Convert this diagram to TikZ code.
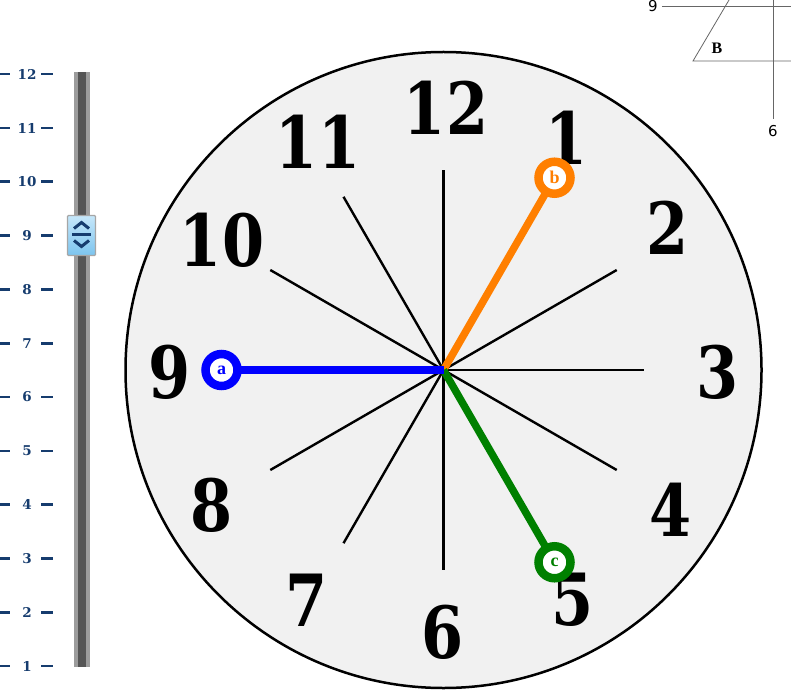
\documentclass[tikz,border=0pt]{standalone}
\usepackage{fontspec}
\setmainfont{Liberation Serif}
\newfontfamily\dvserif{DejaVu Serif}
\newfontfamily\dvsans{DejaVu Sans}
\newfontfamily\clockfont{DejaVu Serif}[FakeStretch=0.84]
\usetikzlibrary{positioning, arrows.meta}
\definecolor{facegray}{HTML}{F1F1F1}
\definecolor{handblue}{HTML}{0000FF}
\definecolor{handorange}{HTML}{FF7F00}
\definecolor{handgreen}{HTML}{008000}
\definecolor{slidenavy}{HTML}{163C6E}
\definecolor{barlight}{HTML}{9C9C9C}
\definecolor{bardark}{HTML}{555555}
\definecolor{knobtop}{HTML}{C6E7FA}
\definecolor{knobbot}{HTML}{7CC4EE}

\tikzset{
  numeral/.style={font=\clockfont\fontsize{72}{72}\selectfont\bfseries, inner sep=0pt},
  hand/.style={line width=7.5pt},
  knob/.style={circle, draw=#1, line width=8.5pt, fill=white, minimum size=32pt,
    inner sep=0pt, text=#1, font=\fontsize{18}{18}\selectfont\bfseries},
  slidelabel/.style={text=slidenavy, inner sep=0pt,
    font=\dvserif\fontsize{13.5}{13.5}\selectfont\bfseries},
  slidedash/.style={draw=slidenavy, line width=2.6pt},
  chevron/.style={draw=slidenavy, line width=3pt},
  guide/.style={draw=black!60, line width=0.8pt}
}

\begin{document}
\begin{tikzpicture}[x=1pt, y=1pt, line width=2.4pt]
  \useasboundingbox (0,0) rectangle (791,689);
  \def\R{318}\def\rt{200}\def\rh{222}
  \coordinate (center) at (443.5,319);

  % clock face
  \filldraw[fill=facegray, line width=2.5pt] (center) circle[radius=\R];
  \foreach \k in {1,...,12} {
    \path (center) ++({90-30*\k}:\rt) coordinate (tick\k);
    \draw (center) -- (tick\k);
  }
  \foreach \k/\nx/\ny in {12/446/581, 1/567/551, 2/668/461, 3/718/317, 4/671/179,
      5/573/89, 6/443/57, 7/307/89, 8/212/184, 9/170/317, 10/222/449, 11/318/547}
    \node[numeral] (num\k) at (\nx,\ny) {\k};

  % hands
  \path (center) ++(180:\rh) coordinate (tipa);
  \path (center) ++(60:\rh) coordinate (tipb);
  \path (center) ++(-60:\rh) coordinate (tipc);
  \draw[hand, handorange] (center) -- (tipb);
  \draw[hand, handgreen] (center) -- (tipc);
  \draw[hand, handblue] (center) -- (tipa);
  \node[knob=handblue] (knoba) at (tipa) {a};
  \node[knob=handorange] (knobb) at (tipb) {b};
  \node[knob=handgreen] (knobc) at (tipc) {c};

  % slider
  \fill[barlight] (74,22) rectangle (90,617);
  \fill[bardark] (78,22) rectangle (86,617);
  \foreach \v in {1,...,12} {
    \node[slidelabel] (lab\v) at (27,{23+(\v-1)*53.8}) {\v};
    \draw[slidedash] ([xshift=-27pt]lab\v.center) -- ++(10,0);
    \draw[slidedash] ([xshift=14pt]lab\v.center) -- ++(12,0);
  }
  \node[draw=black!35, line width=1.2pt, rounded corners=1pt, top color=knobtop,
    bottom color=knobbot, minimum width=28pt, minimum height=40pt] (thumb) at (81.5,453.5) {};
  \draw[chevron]
    ([shift={(-7.5,7)}]thumb.center) -- ([shift={(0,13)}]thumb.center) -- ([shift={(7.5,7)}]thumb.center);
  \draw[chevron]
    ([shift={(-9.5,1)}]thumb.center) -- ([shift={(9.5,1)}]thumb.center);
  \draw[chevron]
    ([shift={(-7.5,-5)}]thumb.center) -- ([shift={(0,-11)}]thumb.center) -- ([shift={(7.5,-5)}]thumb.center);

  % corner sketch
  \node[font=\dvsans\fontsize{15}{15}\selectfont, inner sep=0pt] (nine) at (653,683) {9};
  \node[font=\dvsans\fontsize{15}{15}\selectfont, inner sep=0pt] (six) at (773,558) {6};
  \node[font=\fontsize{16}{16}\selectfont\bfseries, inner sep=0pt] (bee) at (717,641) {B};
  \coordinate (topend) at (791,683);
  \coordinate (slanttop) at (729,689);
  \coordinate (slantfoot) at (693,628);
  \coordinate (baseend) at (791,628);
  \coordinate (vtop) at (773,689);
  \draw[guide] ([xshift=3pt]nine.east) -- (topend);
  \draw[guide] (slanttop) -- (slantfoot) -- (baseend);
  \draw[guide] (vtop) -- ([yshift=5pt]six.north);
\end{tikzpicture}
\end{document}
